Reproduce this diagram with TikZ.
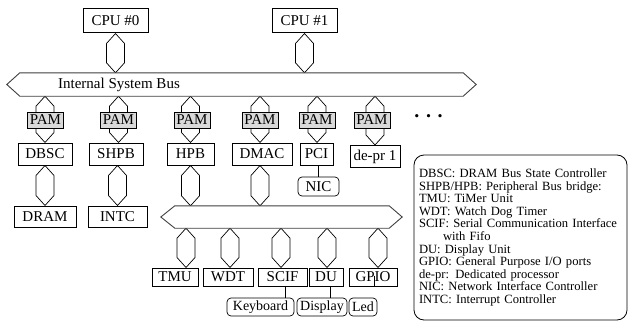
\documentclass[tikz,border=0pt]{standalone}
\usepackage{fontspec}
\setmainfont{Liberation Serif}
\usetikzlibrary{calc}
\pgfdeclarelayer{bg}
\pgfsetlayers{bg,main}
\tikzset{
  box/.style={draw, line width=1pt, fill=white, inner sep=0pt, font=\fontsize{15}{15}\selectfont},
  pambox/.style={box, fill=black!15},
  rbox/.style={box, rounded corners=4pt, line width=0.7pt},
  link/.style={draw, line width=0.7pt, fill=white},
  wire/.style={draw, line width=0.7pt},
  busline/.style={draw=black!75, line width=0.9pt, fill=white},
}
\newcommand{\hexlink}[2]{%
  \path[link] (#1) -- ++(-9,10) -- ($(#2)+(-9,-10)$) -- (#2) -- ($(#2)+(9,-10)$) -- ($(#1)+(9,10)$) -- cycle;}
\begin{document}
\begin{tikzpicture}[x=1pt,y=-1pt]
\useasboundingbox (0,0) rectangle (631,329);
% CPUs
\node[box, minimum width=65, minimum height=24] (cpu0) at (115.5,21) {CPU \#0};
\node[box, minimum width=65, minimum height=24] (cpu1) at (304.5,21) {CPU \#1};
% internal system bus
\node[inner sep=0, minimum width=443, minimum height=23] (bus) at (241.5,84.5) {};
\path[busline] (bus.north west) -- (bus.north east) -- ($(bus.east)+(13,0)$) -- (bus.south east) -- (bus.south west) -- ($(bus.west)+(-13,0)$) -- cycle;
\node[font=\fontsize{15}{15}\selectfont] (buslabel) at (119,85) {Internal System Bus};
% PAMs
\foreach \n/\x in {1/45.5,2/118.5,3/192,4/260,5/317,6/372}{
  \node[pambox, minimum width=36, minimum height=16] (pam\n) at (\x,120) {PAM};
}
\node[font=\fontsize{20}{20}\selectfont\bfseries] (dots) at (428.5,116) {. . .};
% middle row
\node[box, minimum width=54, minimum height=22] (dbsc) at (45,154) {DBSC};
\node[box, minimum width=54, minimum height=22] (shpb) at (116,154) {SHPB};
\node[box, minimum width=47, minimum height=22] (hpb) at (190.5,154) {HPB};
\node[box, minimum width=60, minimum height=22] (dmac) at (262,154) {DMAC};
\node[box, minimum width=33, minimum height=22] (pci) at (316.5,154) {PCI};
\node[box, minimum width=50, minimum height=22] (depr) at (375,156.5) {de-pr 1};
\node[rbox, minimum width=41, minimum height=19] (nic) at (318.5,186.5) {NIC};
\node[box, minimum width=62, minimum height=21] (dram) at (45,216.5) {DRAM};
\node[box, minimum width=59, minimum height=21] (intc) at (117.5,216.5) {INTC};
% lower bus
\node[inner sep=0, minimum width=214, minimum height=22] (lbus) at (282,217) {};
\path[busline] (lbus.north west) -- (lbus.north east) -- ($(lbus.east)+(13,0)$) -- (lbus.south east) -- (lbus.south west) -- ($(lbus.west)+(-14,0)$) -- cycle;
% lower row
\node[box, minimum width=46, minimum height=18] (tmu) at (175,277) {TMU};
\node[box, minimum width=50, minimum height=18] (wdt) at (228,277) {WDT};
\node[box, minimum width=49, minimum height=18] (scif) at (282.5,277) {SCIF};
\node[box, minimum width=34, minimum height=18] (du) at (326,277) {DU};
\node[box, minimum width=48, minimum height=18] (gpio) at (373,277) {GPIO};
\node[rbox, minimum width=67, minimum height=18, font=\fontsize{14}{14}\selectfont] (kbd) at (260.5,307) {Keyboard};
\node[rbox, minimum width=50, minimum height=18, font=\fontsize{14}{14}\selectfont] (disp) at (322,307) {Display};
\node[rbox, minimum width=28, minimum height=18, font=\fontsize{14}{14}\selectfont] (led) at (363,307) {Led};
% legend
\node[draw, line width=0.8pt, rounded corners=10pt, minimum height=165, inner xsep=5pt, inner ysep=0pt,
      text width=203pt, align=left, font=\fontsize{12.6}{12.6}\selectfont] (legend) at (520.5,237.5)
{DBSC: DRAM Bus State Controller\\
SHPB/HPB: Peripheral Bus bridge:\\
TMU: TiMer Unit\\
WDT: Watch Dog Timer\\
SCIF: Serial Communication Interface\\
\hspace*{24pt}with Fifo\\
DU: Display Unit\\
GPIO: General Purpose I/O ports\\
de-pr: Dedicated processor\\
NIC: Network Interface Controller\\
INTC: Interrupt Controller};
% connector anchor points
\path (tmu.north) ++(11,0) coordinate (tmuin);
\path (wdt.north) ++(2,0) coordinate (wdtin);
\path (scif.north) ++(-1.5,0) coordinate (scifin);
\path (du.north) ++(1,0) coordinate (duin);
\path (gpio.north) ++(5,0) coordinate (gpioin);
\path (gpio.south) ++(1,-11) coordinate (gpiomark);
\begin{pgfonlayer}{bg}
\hexlink{cpu0.south}{cpu0.south |- bus.north}
\hexlink{cpu1.south}{cpu1.south |- bus.north}
\hexlink{bus.south -| dbsc.north}{dbsc.north}
\hexlink{bus.south -| pam2.north}{pam2.south |- shpb.north}
\hexlink{bus.south -| hpb.north}{hpb.north}
\hexlink{bus.south -| pam4.north}{pam4.south |- dmac.north}
\hexlink{bus.south -| pam5.north}{pam5.south |- pci.north}
\hexlink{bus.south -| depr.north}{depr.north}
\hexlink{dbsc.south}{dbsc.south |- dram.north}
\hexlink{shpb.south -| intc.north}{intc.north}
\hexlink{hpb.south}{hpb.south |- lbus.north}
\hexlink{dmac.south -| pam4.south}{pam4.south |- lbus.north}
\hexlink{lbus.south -| tmuin}{tmuin}
\hexlink{lbus.south -| wdtin}{wdtin}
\hexlink{lbus.south -| scifin}{scifin}
\hexlink{lbus.south -| duin}{duin}
\hexlink{lbus.south -| gpioin}{gpioin}
\end{pgfonlayer}
\draw[wire] (pci.south -| nic.north) -- (nic.north);
\draw[wire] ($(scif.south)+(2.5,0)$) -- ($(scif.south |- kbd.north)+(2.5,0)$);
\draw[wire] ($(du.south)+(4,0)$) -- ($(du.south |- disp.north)+(4,0)$);
\draw[wire] (gpiomark) -- (gpiomark |- gpio.south);
\end{tikzpicture}
\end{document}
